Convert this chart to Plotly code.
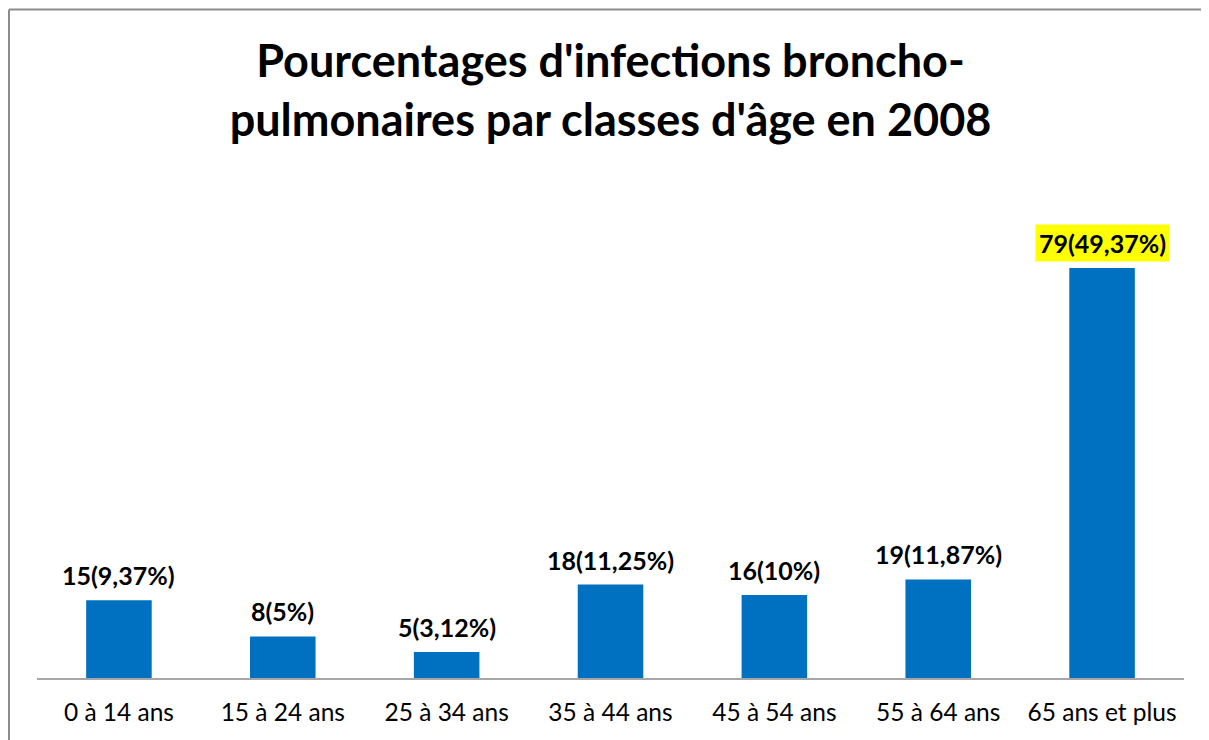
import plotly.graph_objects as go

categories = ["0 à 14 ans", "15 à 24 ans", "25 à 34 ans", "35 à 44 ans",
              "45 à 54 ans", "55 à 64 ans", "65 ans et plus"]
counts = [15, 8, 5, 18, 16, 19, 79]
labels = ["15(9,37%)", "8(5%)", "5(3,12%)", "18(11,25%)", "16(10%)",
          "19(11,87%)", "79(49,37%)"]
highlight = [False, False, False, False, False, False, True]

# page has an 8px body margin, so figure is sized to fit the 1209x740 window
W, H = 1201, 732
ml, mr, mt, mb = 29, 25, 162, 62
pw, ph = W - ml - mr, H - mt - mb
px_per_unit = 410 / 79
ymax = ph / px_per_unit

FONT = "Lato"

fig = go.Figure()
fig.add_trace(go.Bar(
    x=categories, y=counts, width=0.4,
    marker=dict(color="#0070C0", line=dict(width=0)),
    hoverinfo="x+y", showlegend=False,
))

for c, v, lab, hl in zip(categories, counts, labels, highlight):
    fig.add_annotation(
        x=c, y=v, text="<b>" + lab + "</b>", showarrow=False,
        yanchor="bottom", yshift=6,
        font=dict(family=FONT, size=25, color="black"),
        bgcolor="#FFFF00" if hl else "rgba(0,0,0,0)",
        borderpad=3,
    )

# frame lines (top and left)
fx = (1 - ml) / pw
fy = (H - mb - 1.5) / ph
fig.add_shape(type="line", xref="paper", yref="paper", x0=fx, x1=(W - ml) / pw,
              y0=fy, y1=fy, line=dict(color="#8C8C8C", width=2))
fig.add_shape(type="line", xref="paper", yref="paper", x0=fx, x1=fx,
              y0=fy, y1=-(mb + 5) / ph, line=dict(color="#8C8C8C", width=2))

fig.update_layout(
    width=W, height=H,
    margin=dict(l=ml, r=mr, t=mt, b=mb),
    paper_bgcolor="white", plot_bgcolor="white",
    title=dict(
        text="<b>Pourcentages d'infections broncho-<br>pulmonaires par classes d'âge en 2008</b>",
        x=0.5, xref="paper", xanchor="center",
        y=(H - 69) / H, yref="container", yanchor="middle",
        font=dict(family=FONT, size=45, color="black"),
    ),
    xaxis=dict(
        range=[-0.5, 6.5], showline=True, linecolor="#A6A6A6", linewidth=2,
        ticks="", showgrid=False, zeroline=False,
        tickfont=dict(family=FONT, size=24.5, color="black"),
        ticklabelstandoff=12,
    ),
    yaxis=dict(range=[0, ymax], visible=False, showgrid=False, zeroline=False),
)

fig.write_html("out.html")
